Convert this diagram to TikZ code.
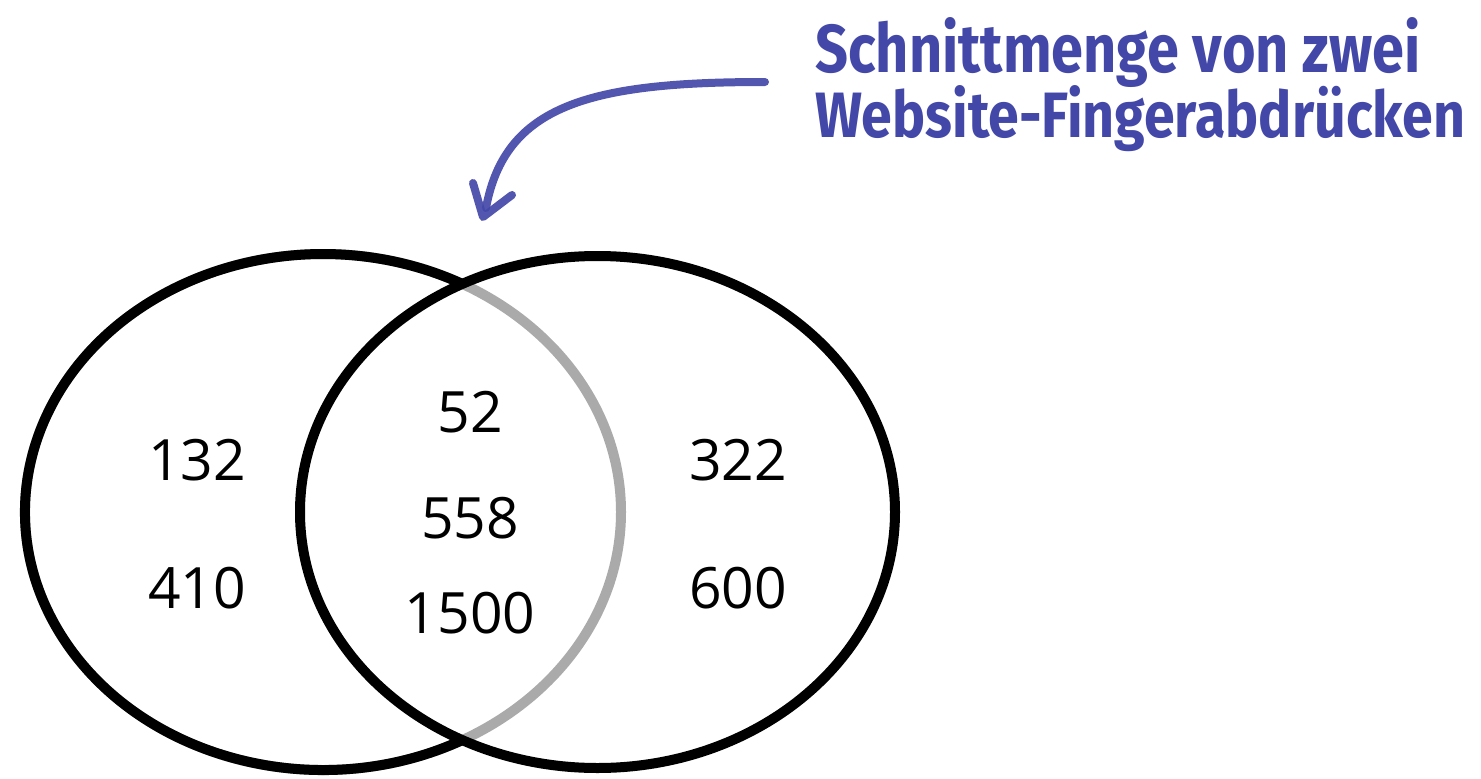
\documentclass[tikz,border=0pt]{standalone}
\usepackage{fontspec}
\setmainfont{Open Sans}
\newfontfamily\titlefont{Fira Sans}
\definecolor{titleblue}{HTML}{4348A8}
\definecolor{arcgray}{HTML}{AAAAAA}
\begin{document}
\begin{tikzpicture}[x=1pt,y=-1pt,
  setline/.style={line width=10pt},
  num/.style={font=\fontsize{57}{68}\selectfont, inner sep=0pt, anchor=center},
  crayon/.style={draw=titleblue, line width=8pt, line cap=round, line join=round, opacity=0.92},
  titletext/.style={text=titleblue, inner sep=0pt, anchor=base west}]
\useasboundingbox (0,0) rectangle (1481,779);
% left set
\draw[setline, arcgray] (323,512) ellipse [x radius=298, y radius=258];
\draw[setline, black] (323,512) ++(62.2:298 and 258) arc[start angle=62.2, end angle=297.8, x radius=298, y radius=258];
% right set
\draw[setline, black] (597.5,512) ellipse [x radius=297.5, y radius=256];
% numbers
\node[num] (a1) at (197,460) {132};
\node[num] (a2) at (197,588) {410};
\node[num] (c1) at (470,412) {52};
\node[num] (c2) at (470,518) {558};
\node[num] (c3) at (470,613) {1500};
\node[num] (b1) at (738,460) {322};
\node[num] (b2) at (738,588) {600};
% title
\node[titletext] (t1) at (815,72) {\resizebox{605pt}{55pt}{\titlefont\bfseries Schnittmenge von zwei}};
\node[titletext] (t2) at (815,137) {\resizebox{650pt}{52pt}{\titlefont\bfseries Website-Fingerabdrücken}};
% arrow
\coordinate (as) at (765,82);
\coordinate (ae) at (486,208);
\coordinate (tip) at (483,217);
\coordinate (h1) at (473,183);
\coordinate (h2) at (512,195);
\draw[crayon] (as) .. controls (590,82) and (505,105) .. (ae);
\draw[crayon] (h1) -- (tip) -- (h2);
\end{tikzpicture}
\end{document}
